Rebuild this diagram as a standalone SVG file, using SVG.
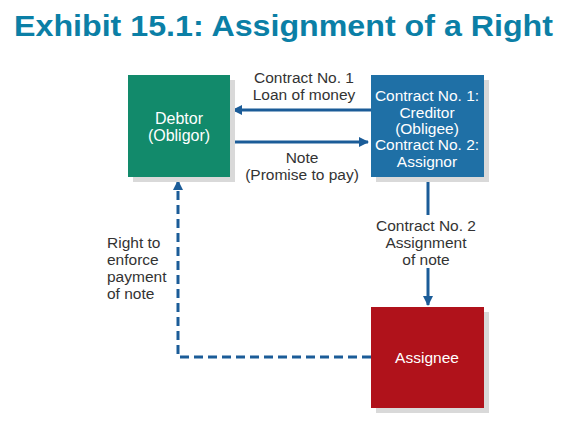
<svg xmlns="http://www.w3.org/2000/svg" width="583" height="422" viewBox="0 0 583 422">
<defs>
<style>
.t{font-family:"Liberation Sans",Arial,sans-serif;font-size:15.5px;fill:#333;text-anchor:middle}
.w{font-family:"Liberation Sans",Arial,sans-serif;font-size:15.5px;fill:#fff;text-anchor:middle}
.ln{stroke:#1b5c98;stroke-width:3;fill:none}
.dash{stroke:#1b5c98;stroke-width:3;fill:none;stroke-dasharray:9,5}
.sh{fill:#d9d9d9}
</style>
<marker id="ah" markerWidth="10" markerHeight="10" refX="9" refY="5" orient="auto" markerUnits="userSpaceOnUse" viewBox="0 0 10 10">
<path d="M0,0 L10,5 L0,10 Z" fill="#1b5c98"/>
</marker>
</defs>
<rect width="583" height="422" fill="#fff"/>
<text x="14" y="36" font-family="Liberation Sans,Arial,sans-serif" font-weight="bold" font-size="29" fill="#0b7fa6" textLength="539" lengthAdjust="spacingAndGlyphs">Exhibit 15.1: Assignment of a Right</text>
<g id="connectors">
<line class="ln" x1="371" y1="110" x2="233" y2="110" marker-end="url(#ah)"/>
<line class="ln" x1="230" y1="142" x2="368" y2="142" marker-end="url(#ah)"/>
<line class="ln" x1="428" y1="176" x2="428" y2="215"/>
<line class="ln" x1="428" y1="268" x2="428" y2="305" marker-end="url(#ah)"/>
<polyline class="dash" points="371,357 178,357 178,182"/>
<path d="M173,190 L178,180 L183,190 Z" fill="#1b5c98"/>
<text class="t" x="304" y="83">Contract No. 1</text>
<text class="t" x="304" y="100">Loan of money</text>
<text class="t" x="302" y="163">Note</text>
<text class="t" x="302" y="180">(Promise to pay)</text>
<text class="t" x="426" y="231">Contract No. 2</text>
<text class="t" x="426" y="248">Assignment</text>
<text class="t" x="426" y="265">of note</text>
<text class="t" style="text-anchor:start" x="107" y="248">Right to</text>
<text class="t" style="text-anchor:start" x="107" y="265">enforce</text>
<text class="t" style="text-anchor:start" x="107" y="282">payment</text>
<text class="t" style="text-anchor:start" x="107" y="299">of note</text>
</g>
<g id="debtor">
<rect class="sh" x="133" y="80" width="102" height="102"/>
<rect x="128" y="75" width="102" height="102" fill="#128a6b"/>
<text class="w" style="font-size:16px" x="179" y="124">Debtor</text>
<text class="w" style="font-size:16px" x="179" y="141">(Obligor)</text>
</g>
<g id="creditor">
<rect class="sh" x="376" y="80" width="113" height="102"/>
<rect x="371" y="75" width="113" height="102" fill="#1f70a6"/>
<text class="w" x="427" y="101">Contract No. 1:</text>
<text class="w" x="427" y="118">Creditor</text>
<text class="w" x="427" y="134">(Obligee)</text>
<text class="w" x="427" y="150">Contract No. 2:</text>
<text class="w" x="427" y="167">Assignor</text>
</g>
<g id="assignee">
<rect class="sh" x="376" y="312" width="113" height="101"/>
<rect x="371" y="307" width="113" height="101" fill="#b0121b"/>
<text class="w" x="427" y="363">Assignee</text>
</g>
</svg>
